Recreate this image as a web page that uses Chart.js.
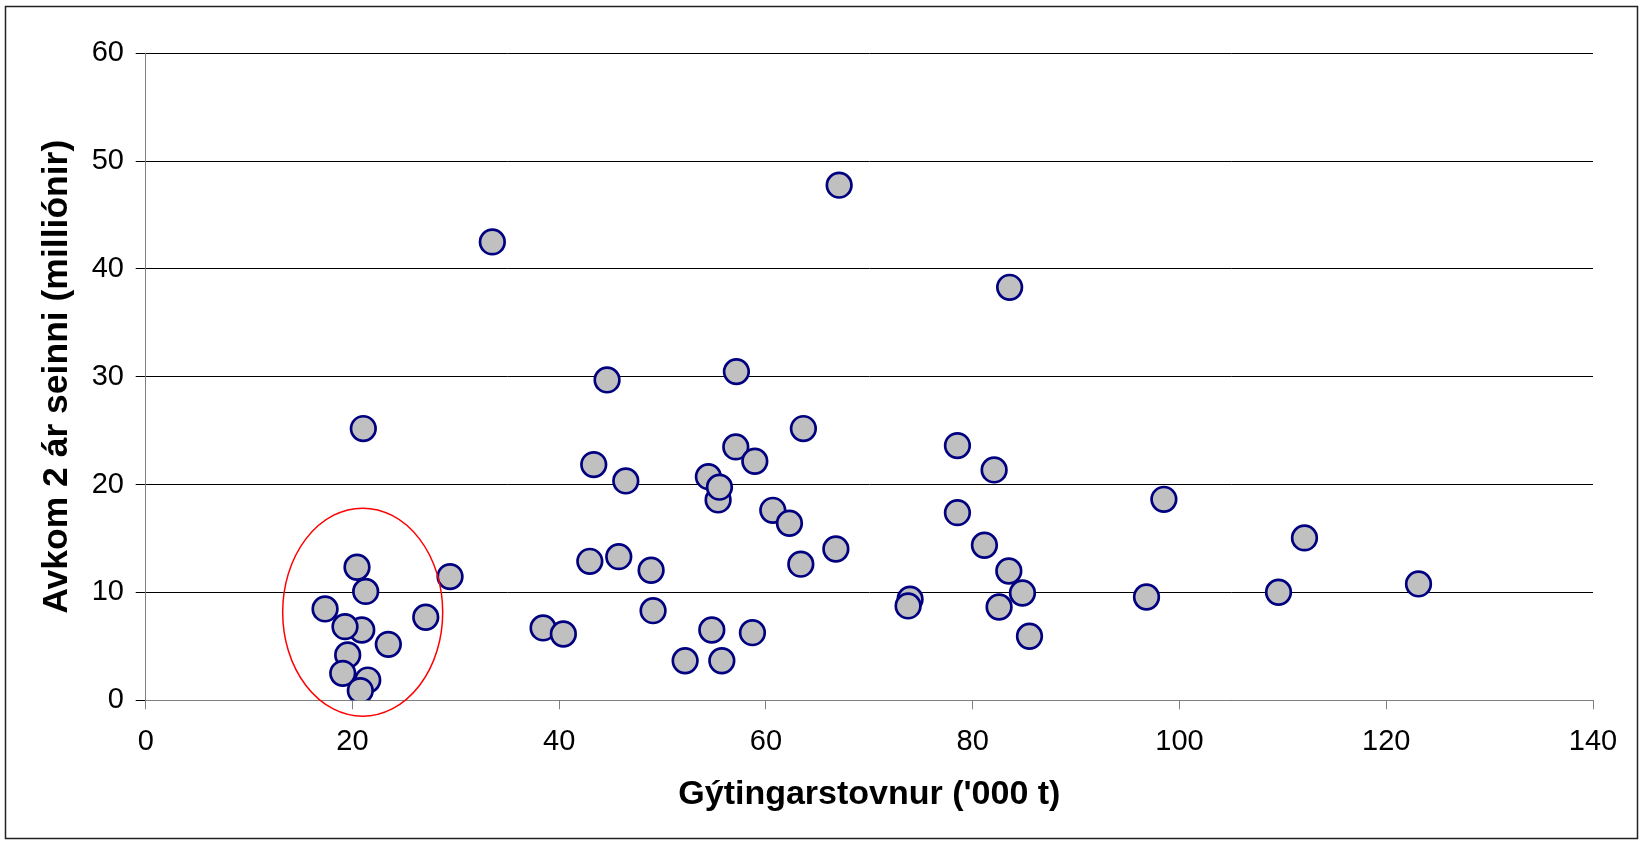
<!DOCTYPE html>
<html>
<head>
<meta charset="utf-8">
<script src="https://cdn.jsdelivr.net/npm/chart.js@4.4.0/dist/chart.umd.min.js"></script>
<style>
  html, body { margin: 0; padding: 0; background: #ffffff; }
  #wrap { width: 1643px; height: 844px; }
</style>
</head>
<body>
<div id="wrap"><canvas id="chart" width="1643" height="844"></canvas></div>
<script>
// Gýtingarstovnur ('000 t) against Avkom 2 ár seinni (milliónir)
const stockX = [
  17.35, 20.90, 19.28, 19.54, 21.48, 19.06, 20.76, 20.44, 21.28, 23.47,
  27.09, 29.44, 21.05, 33.53, 38.44, 40.40, 42.96, 45.76, 43.34, 46.44,
  44.63, 48.89, 49.08, 52.18, 55.73, 54.76, 58.69, 54.43, 55.37, 55.50,
  57.08, 58.92, 57.14, 60.66, 62.27, 63.37, 63.62, 66.76, 67.08, 73.94,
  73.75, 78.52, 78.52, 81.13, 82.07, 82.55, 83.49, 84.81, 85.49, 83.57,
  96.81, 98.49, 109.58, 112.09, 123.12
];
const recruitY = [
  8.47, 6.52, 6.83, 4.20, 1.88, 2.50, 0.90, 12.34, 10.10, 5.19,
  7.70, 11.47, 25.20, 42.51, 6.71, 6.15, 12.89, 13.32, 21.86, 20.34,
  29.71, 12.06, 8.31, 3.67, 3.67, 6.52, 6.27, 20.74, 18.58, 19.76,
  23.50, 22.17, 30.48, 17.62, 16.42, 12.62, 25.20, 14.03, 47.77, 9.37,
  8.75, 23.62, 17.40, 14.38, 21.36, 8.65, 11.99, 9.95, 5.94, 38.30,
  9.58, 18.64, 10.02, 15.06, 10.79
];
const xTickValues = [0, 20, 40, 60, 80, 100, 120, 140];
const yTickValues = [0, 10, 20, 30, 40, 50, 60];

// red ring round the low-stock years, in data units
const ringX = 20.99;
const ringY = 8.17;
const ringRx = 7.74;
const ringRy = 9.65;

const FONT = "'Liberation Sans', Arial, sans-serif";

const points = stockX.map((x, i) => ({ x: x, y: recruitY[i] }));

const ringPlugin = {
  id: 'ring',
  afterDatasetsDraw(chart) {
    const { ctx, scales } = chart;
    const cx = scales.x.getPixelForValue(ringX);
    const cy = scales.y.getPixelForValue(ringY);
    const rx = scales.x.getPixelForValue(ringX + ringRx) - cx;
    const ry = cy - scales.y.getPixelForValue(ringY + ringRy);
    ctx.save();
    ctx.beginPath();
    ctx.ellipse(cx, cy, rx, ry, 0, 0, Math.PI * 2);
    ctx.strokeStyle = '#ff0000';
    ctx.lineWidth = 1.5;
    ctx.stroke();
    ctx.restore();
  }
};

const framePlugin = {
  id: 'frame',
  afterDraw(chart) {
    const ctx = chart.ctx;
    ctx.save();
    ctx.strokeStyle = '#222222';
    ctx.lineWidth = 1.5;
    ctx.strokeRect(5.5, 6.5, 1632, 832);
    ctx.restore();
  }
};

new Chart(document.getElementById('chart').getContext('2d'), {
  type: 'scatter',
  data: {
    datasets: [{
      data: points,
      backgroundColor: '#c0c0c0',
      borderColor: '#000080',
      borderWidth: 2.7,
      pointRadius: 12.3,
      pointHoverRadius: 12.3
    }]
  },
  options: {
    responsive: false,
    animation: false,
    events: [],
    layout: { padding: { left: 0, top: 53.3, right: 50, bottom: 0 } },
    plugins: {
      legend: { display: false },
      tooltip: { enabled: false }
    },
    scales: {
      x: {
        type: 'linear',
        min: 0,
        max: 140,
        afterBuildTicks: (s) => { s.ticks = xTickValues.map(v => ({ value: v })); },
        afterFit: (s) => { s.height = 844 - 700.3; },
        grid: { drawOnChartArea: false, drawTicks: true, tickLength: 9, color: '#808080', lineWidth: 1 },
        border: { color: '#808080', width: 1 },
        ticks: { color: '#000', font: { family: FONT, size: 29 }, padding: 15.6, maxRotation: 0 },
        title: {
          display: true,
          text: "Gýtingarstovnur ('000 t)",
          color: '#000',
          font: { family: FONT, size: 34, weight: 'bold' },
          padding: { top: 0, bottom: 29.4 }
        }
      },
      y: {
        type: 'linear',
        min: 0,
        max: 60,
        afterBuildTicks: (s) => { s.ticks = yTickValues.map(v => ({ value: v })); },
        afterFit: (s) => { s.width = 145.7; },
        grid: { color: '#000000', lineWidth: 1, tickLength: 10 },
        border: { color: '#808080', width: 1 },
        ticks: { color: '#000', font: { family: FONT, size: 29 }, padding: 11.7 },
        title: {
          display: true,
          text: 'Avkom 2 ár seinni (milliónir)',
          color: '#000',
          font: { family: FONT, size: 35.5, weight: 'bold' },
          padding: { top: 36.4, bottom: 0 }
        }
      }
    }
  },
  plugins: [ringPlugin, framePlugin]
});
</script>
</body>
</html>
